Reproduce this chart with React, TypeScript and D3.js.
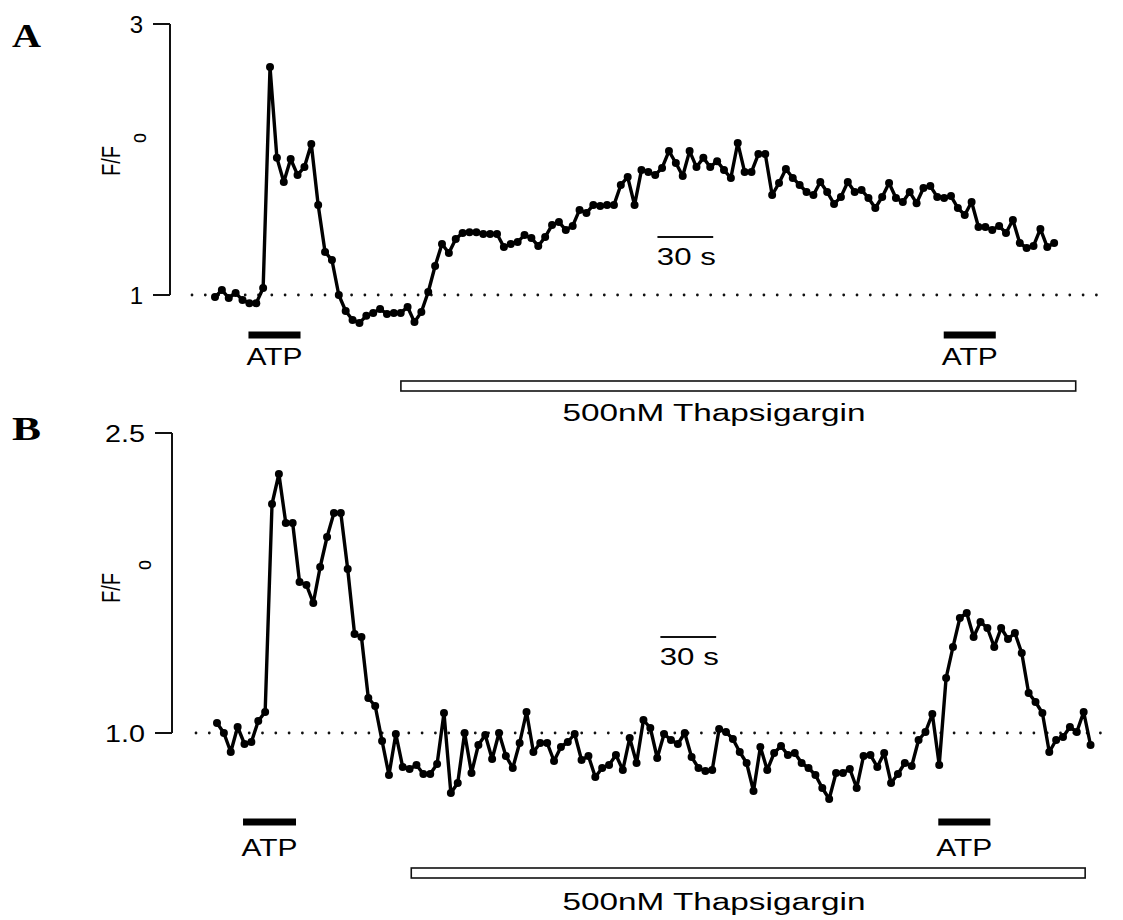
import React from "react";
import * as d3 from "d3";

// Sampling interval of both fluorescence recordings, in seconds
const SAMPLE_S = 3.7;

// Panel A: F/Fo, ATP before and during 500 nM thapsigargin
const traceA: number[] = [
  0.986, 1.036, 0.978, 1.014, 0.964, 0.94, 0.94, 1.052, 2.682, 2.012,
  1.834, 2.004, 1.886, 1.944, 2.114, 1.664, 1.318, 1.258, 1.0, 0.882,
  0.816, 0.794, 0.846, 0.868, 0.896, 0.86, 0.868, 0.868, 0.912, 0.8,
  0.874, 1.022, 1.214, 1.376, 1.31, 1.414, 1.458, 1.464, 1.464, 1.45,
  1.45, 1.45, 1.354, 1.376, 1.392, 1.442, 1.42, 1.362, 1.428, 1.516,
  1.538, 1.48, 1.51, 1.628, 1.606, 1.664, 1.656, 1.664, 1.664, 1.812,
  1.87, 1.664, 1.922, 1.908, 1.886, 1.938, 2.062, 1.974, 1.878, 2.062,
  1.944, 2.012, 1.944, 1.988, 1.922, 1.864, 2.122, 1.908, 1.908, 2.04,
  2.04, 1.738, 1.826, 1.93, 1.864, 1.812, 1.76, 1.738, 1.834, 1.76,
  1.672, 1.724, 1.834, 1.76, 1.774, 1.716, 1.642, 1.724, 1.826, 1.716,
  1.686, 1.76, 1.678, 1.79, 1.804, 1.724, 1.716, 1.73, 1.642, 1.59,
  1.686, 1.502, 1.502, 1.48, 1.51, 1.458, 1.554, 1.384, 1.346, 1.362,
  1.488, 1.354, 1.384,
];

// Panel B: F/Fo, second cell
const traceB: number[] = [
  1.05, 1.0, 0.905, 1.03, 0.945, 0.955, 1.06, 1.105, 2.145, 2.295,
  2.05, 2.05, 1.755, 1.74, 1.65, 1.83, 1.98, 2.1, 2.1, 1.82,
  1.495, 1.48, 1.175, 1.135, 0.96, 0.79, 0.995, 0.83, 0.82, 0.84,
  0.795, 0.795, 0.845, 1.1, 0.7, 0.75, 1.0, 0.8, 0.94, 0.99,
  0.87, 1.0, 0.885, 0.825, 0.95, 1.105, 0.905, 0.95, 0.95, 0.86,
  0.93, 0.955, 0.995, 0.865, 0.885, 0.78, 0.825, 0.84, 0.89, 0.815,
  0.975, 0.85, 1.065, 1.025, 0.875, 0.995, 0.965, 0.945, 1.0, 0.88,
  0.825, 0.81, 0.815, 1.02, 1.005, 0.97, 0.905, 0.85, 0.71, 0.93,
  0.815, 0.9, 0.935, 0.89, 0.9, 0.85, 0.825, 0.79, 0.725, 0.67,
  0.8, 0.8, 0.82, 0.725, 0.885, 0.89, 0.83, 0.9, 0.75, 0.795,
  0.85, 0.835, 0.965, 1.005, 1.095, 0.84, 1.275, 1.43, 1.575, 1.6,
  1.48, 1.555, 1.525, 1.43, 1.525, 1.47, 1.5, 1.4, 1.2, 1.155,
  1.1, 0.905, 0.965, 0.98, 1.03, 1.005, 1.105, 0.94,
];

// Y axis ticks
const ticksA: number[] = [1, 3];
const tickLabelsA: string[] = ["1", "3"];
const ticksB: number[] = [1.0, 2.5];
const tickLabelsB: string[] = ["1.0", "2.5"];

// Drug applications (seconds from start of recording)
const atpA: [number, number][] = [[18, 46], [392, 420]];
const thapsA: [number, number] = [100, 463];
const atpB: [number, number][] = [[14, 42.5], [388, 416]];
const thapsB: [number, number] = [104.5, 467];

// 30 s calibration bar start (seconds)
const calStartA = 238;
const calStartB = 238.5;
const CAL_S = 30;

const PX_PER_S = 1.859;
const SANS = "'Liberation Sans', Arial, Helvetica, sans-serif";
const SERIF = "'Liberation Serif', 'Times New Roman', serif";

type PanelProps = {
  letter: string;
  letterY: number;
  values: number[];
  ticks: number[];
  tickLabels: string[];
  yDomain: [number, number];
  yRange: [number, number];
  x0: number;
  axisX: number;
  atp: [number, number][];
  thaps: [number, number];
  calStart: number;
  calY: number;
  atpY: number;
  atpLabelY: number;
  thapsY: number;
  thapsLabelY: number;
  dotFrom: number;
  dotTo: number;
  ylabelY: number;
  subDy: number;
};

function Panel(p: PanelProps) {
  const x = d3.scaleLinear().domain([0, 500]).range([p.x0, p.x0 + 500 * PX_PER_S]);
  const y = d3.scaleLinear().domain(p.yDomain).range(p.yRange);
  const pts = p.values.map((v, i) => [x(i * SAMPLE_S), y(v)] as [number, number]);
  const line = d3.line<[number, number]>().x((d) => d[0]).y((d) => d[1]);
  const base = y(1);
  const top = y(p.yDomain[1]);
  return (
    <g>
      <text x={12} y={p.letterY} fontFamily={SERIF} fontWeight="bold" fontSize={34} textLength={29} lengthAdjust="spacingAndGlyphs">
        {p.letter}
      </text>
      {/* y axis */}
      <line x1={p.axisX} x2={p.axisX} y1={top} y2={base} stroke="#111" strokeWidth={2} />
      {p.ticks.map((t, i) => (
        <g key={i}>
          <line x1={p.axisX - 17} x2={p.axisX} y1={y(t)} y2={y(t)} stroke="#111" strokeWidth={2} />
          <text
            x={p.axisX - 27}
            y={y(t) + 8.5}
            textAnchor="end"
            fontFamily={SANS}
            fontSize={24}
            textLength={p.tickLabels[i].length > 1 ? 40 : undefined}
            lengthAdjust="spacingAndGlyphs"
          >
            {p.tickLabels[i]}
          </text>
        </g>
      ))}
      <g transform={`translate(120, ${p.ylabelY}) rotate(-90) scale(1, 1.25)`}>
        <text x={0} y={0} fontFamily={SANS} fontSize={20} textAnchor="middle" textLength={30} lengthAdjust="spacingAndGlyphs">
          F/F
        </text>
        <text x={18} y={p.subDy} fontFamily={SANS} fontSize={18}>
          o
        </text>
      </g>
      {/* resting level */}
      <line
        x1={p.dotFrom}
        x2={p.dotTo}
        y1={base}
        y2={base}
        stroke="#111"
        strokeWidth={2.8}
        strokeLinecap="round"
        strokeDasharray="0 13.3"
      />
      {/* trace */}
      <path d={line(pts) || ""} fill="none" stroke="#000" strokeWidth={3.4} strokeLinejoin="round" />
      {pts.map((d, i) => (
        <circle key={i} cx={d[0]} cy={d[1]} r={4} fill="#000" />
      ))}
      {/* 30 s calibration */}
      <line x1={x(p.calStart)} x2={x(p.calStart + CAL_S)} y1={p.calY} y2={p.calY} stroke="#111" strokeWidth={2} />
      <text
        x={(x(p.calStart) + x(p.calStart + CAL_S)) / 2 + 1}
        y={p.calY + 28}
        textAnchor="middle"
        fontFamily={SANS}
        fontSize={24}
        textLength={59}
        lengthAdjust="spacingAndGlyphs"
      >
        30 s
      </text>
      {/* ATP applications */}
      {p.atp.map((a, i) => (
        <g key={i}>
          <rect x={x(a[0])} y={p.atpY - 3.5} width={x(a[1]) - x(a[0])} height={7} fill="#000" />
          <text
            x={(x(a[0]) + x(a[1])) / 2}
            y={p.atpLabelY}
            textAnchor="middle"
            fontFamily={SANS}
            fontSize={23}
            textLength={56}
            lengthAdjust="spacingAndGlyphs"
          >
            ATP
          </text>
        </g>
      ))}
      {/* thapsigargin application */}
      <rect
        x={x(p.thaps[0])}
        y={p.thapsY}
        width={x(p.thaps[1]) - x(p.thaps[0])}
        height={10}
        fill="#fff"
        stroke="#111"
        strokeWidth={1.6}
      />
      <text
        x={714}
        y={p.thapsLabelY}
        textAnchor="middle"
        fontFamily={SANS}
        fontSize={23}
        textLength={303}
        lengthAdjust="spacingAndGlyphs"
      >
        500nM Thapsigargin
      </text>
    </g>
  );
}

export default function App() {
  return (
    <svg
      width={1123}
      height={920}
      viewBox="0 0 1123 920"
      style={{ position: "absolute", left: 0, top: 0, background: "#fff" }}
    >
      <rect width={1123} height={920} fill="#fff" />
      <Panel
        letter="A"
        letterY={47}
        values={traceA}
        ticks={ticksA}
        tickLabels={tickLabelsA}
        yDomain={[1, 3]}
        yRange={[295, 24]}
        x0={215}
        axisX={170}
        atp={atpA}
        thaps={thapsA}
        calStart={calStartA}
        calY={237}
        atpY={335}
        atpLabelY={365}
        thapsY={381}
        thapsLabelY={421}
        dotFrom={192}
        dotTo={1100}
        ylabelY={161}
        subDy={21}
      />
      <Panel
        letter="B"
        letterY={440}
        values={traceB}
        ticks={ticksB}
        tickLabels={tickLabelsB}
        yDomain={[1.0, 2.5]}
        yRange={[733, 433]}
        x0={217}
        axisX={172}
        atp={atpB}
        thaps={thapsB}
        calStart={calStartB}
        calY={637}
        atpY={822}
        atpLabelY={856}
        thapsY={868}
        thapsLabelY={910}
        dotFrom={196}
        dotTo={1110}
        ylabelY={588}
        subDy={25}
      />
    </svg>
  );
}
